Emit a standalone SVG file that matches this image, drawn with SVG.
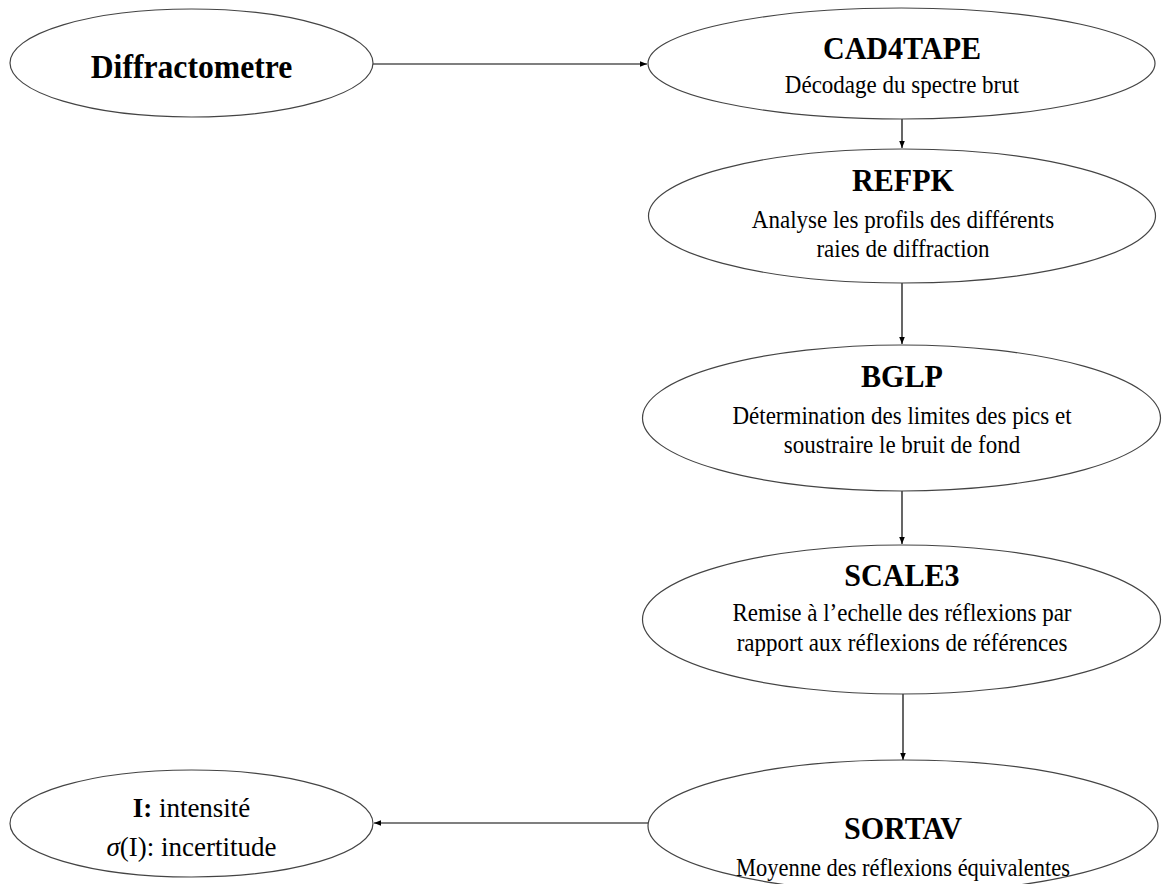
<svg xmlns="http://www.w3.org/2000/svg" width="1162" height="884" viewBox="0 0 1162 884">
<style>
.node ellipse{fill:#fff;stroke:#444;stroke-width:1.2}
text{font-family:"Liberation Serif","Times New Roman",serif;fill:#000;text-anchor:middle}
.t{font-weight:bold;font-size:32px}
.s{font-size:25px}
.conn line{stroke:#000;stroke-width:1.2}
</style>
<defs>
<marker id="ah" viewBox="0 0 10 10" refX="10" refY="5" markerWidth="7" markerHeight="7" markerUnits="userSpaceOnUse" orient="auto">
<path d="M0,1 L10,5 L0,9 Z" fill="#000"/>
</marker>
</defs>
<rect width="1162" height="884" fill="#fff"/>
<g class="conn">
<line x1="373" y1="64" x2="647" y2="64" marker-end="url(#ah)"/>
<line x1="902" y1="119" x2="902" y2="148" marker-end="url(#ah)"/>
<line x1="902" y1="283" x2="902" y2="344" marker-end="url(#ah)"/>
<line x1="902" y1="491" x2="902" y2="544" marker-end="url(#ah)"/>
<line x1="903" y1="694" x2="903" y2="760" marker-end="url(#ah)"/>
<line x1="649" y1="823" x2="374" y2="823" marker-end="url(#ah)"/>
</g>
<g id="diffractometre" class="node">
<ellipse cx="191.5" cy="63" rx="181.5" ry="54"/>
<text transform="translate(191.5 0) scale(0.96 1)" x="0" y="78" style="font-weight:bold;font-size:33px">Diffractometre</text>
</g>
<g id="cad4tape" class="node">
<ellipse cx="901.5" cy="63.5" rx="253.5" ry="55.5"/>
<g transform="translate(902 0)">
<text class="t" transform="scale(0.94 1)" x="0" y="59">CAD4TAPE</text>
<text class="s" transform="scale(0.92 1)" x="0" y="93">Décodage du spectre brut</text>
</g>
</g>
<g id="refpk" class="node">
<ellipse cx="902" cy="216" rx="253.5" ry="67"/>
<g transform="translate(903 0)">
<text class="t" transform="scale(0.94 1)" x="0" y="191">REFPK</text>
<text class="s" transform="scale(0.92 1)" x="0" y="228">Analyse les profils des différents</text>
<text class="s" transform="scale(0.92 1)" x="0" y="257">raies de diffraction</text>
</g>
</g>
<g id="bglp" class="node">
<ellipse cx="901.5" cy="418" rx="259" ry="73"/>
<g transform="translate(902 0)">
<text class="t" transform="scale(0.94 1)" x="0" y="387">BGLP</text>
<text class="s" transform="scale(0.92 1)" x="0" y="424">Détermination des limites des pics et</text>
<text class="s" transform="scale(0.92 1)" x="0" y="453">soustraire le bruit de fond</text>
</g>
</g>
<g id="scale3" class="node">
<ellipse cx="901.5" cy="619.5" rx="259" ry="74.5"/>
<g transform="translate(902 0)">
<text class="t" transform="scale(0.94 1)" x="0" y="586">SCALE3</text>
<text class="s" transform="scale(0.92 1)" x="0" y="621">Remise à l’echelle des réflexions par</text>
<text class="s" transform="scale(0.92 1)" x="0" y="651">rapport aux réflexions de références</text>
</g>
</g>
<g id="sortav" class="node">
<ellipse cx="903" cy="826" rx="255" ry="66"/>
<g transform="translate(903 0)">
<text class="t" transform="scale(0.94 1)" x="0" y="839">SORTAV</text>
<text class="s" transform="scale(0.9 1)" x="0" y="876">Moyenne des réflexions équivalentes</text>
</g>
</g>
<g id="intensite" class="node">
<ellipse cx="191.5" cy="823.5" rx="181.5" ry="53.5"/>
<text x="191.5" y="817" style="font-size:27px"><tspan font-weight="bold">I:</tspan> intensité</text>
<text x="191.5" y="856" style="font-size:27px"><tspan font-style="italic">σ</tspan>(I): incertitude</text>
</g>
</svg>
